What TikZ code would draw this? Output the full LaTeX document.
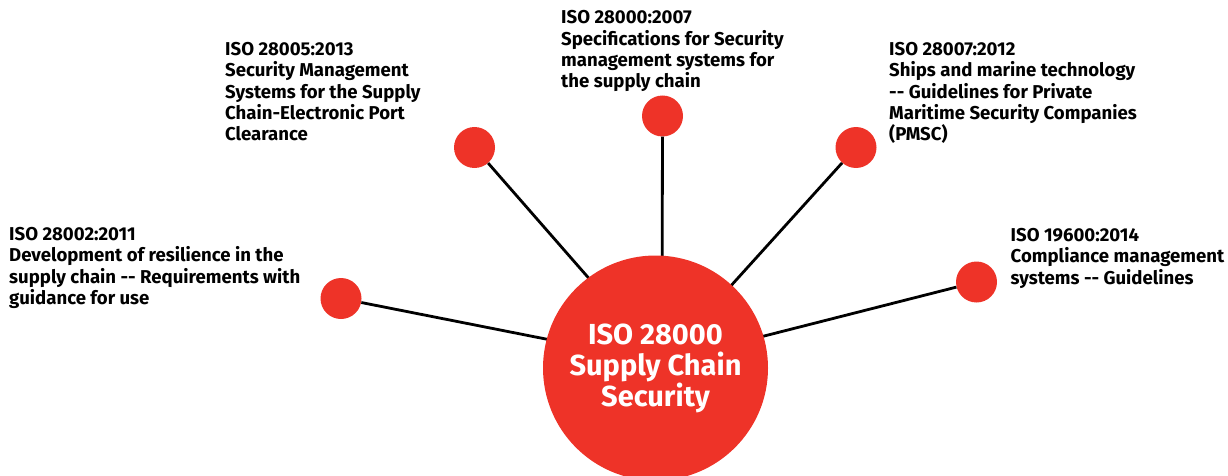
\documentclass[tikz,border=0pt]{standalone}
\usepackage{fontspec}
\setmainfont{Fira Sans}
\definecolor{isored}{RGB}{238,51,40}
\begin{document}
\begin{tikzpicture}[x=1pt,y=-1pt,
    stdot/.style={circle,fill=isored,inner sep=0,minimum size=41pt},
    core/.style={circle,fill=isored,inner sep=0,minimum size=225pt,text=white,
      align=center,font=\bfseries\fontsize{29}{31}\selectfont},
    lbl/.style={anchor=north west,inner sep=0,align=left,
      font=\bfseries\fontsize{18.6}{21.3}\selectfont},
    spoke/.style={line width=2.8pt}]
    \clip (0,0) rectangle (1228,476);

    \coordinate (hub) at (662,362);

    \node[stdot](s1) at (341,298.5) {};
    \node[stdot](s2) at (474.5,147.5) {};
    \node[stdot](s3) at (662.5,116) {};
    \node[stdot](s4) at (856,147.5) {};
    \node[stdot](s5) at (976.5,282) {};

    \draw[spoke] (s1) -- (hub);
    \draw[spoke] (s2) -- (hub);
    \draw[spoke] (s3) -- (hub);
    \draw[spoke] (s4) -- (hub);
    \draw[spoke] (s5) -- (hub);

    \node[core](iso) at (655.5,368) {ISO 28000\\Supply Chain\\Security};

    \node[lbl](t1) at (9,227) {ISO 28002:2011\\Development of resilience in the\\supply chain -{}- Requirements with\\guidance for use};
    \node[lbl](t2) at (225,42) {ISO 28005:2013\\Security Management\\Systems for the Supply\\Chain-Electronic Port\\Clearance};
    \node[lbl](t3) at (561,10.5) {ISO 28000:2007\\Specifications for Security\\management systems for\\the supply chain};
    \node[lbl](t4) at (889,42) {ISO 28007:2012\\Ships and marine technology\\-{}- Guidelines for Private\\Maritime Security Companies\\(PMSC)};
    \node[lbl](t5) at (1010.5,228) {ISO 19600:2014\\Compliance management\\systems -{}- Guidelines};
  \end{tikzpicture}
\end{document}
